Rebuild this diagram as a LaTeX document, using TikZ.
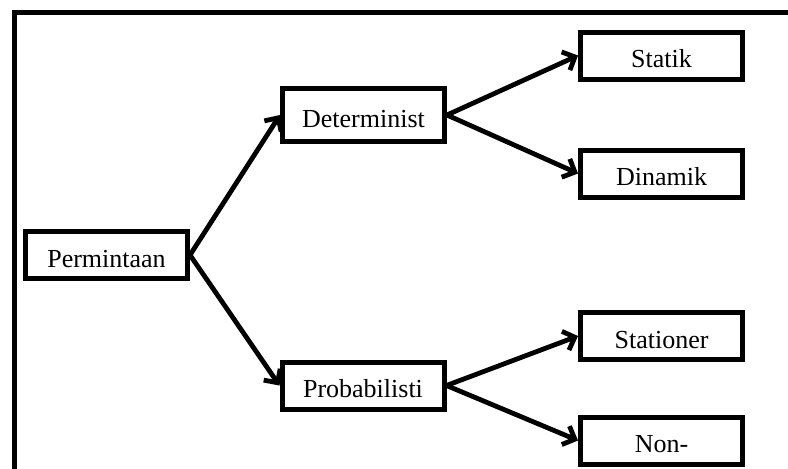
\documentclass[tikz,border=0pt]{standalone}
\usepackage{fontspec}
\setmainfont{Liberation Serif}
\usetikzlibrary{arrows.meta}

\begin{document}
\begin{tikzpicture}[x=0.5pt, y=-0.5pt,
    kotak/.style={draw, line width=2.5pt, minimum width=81pt, minimum height=23.5pt,
        inner sep=0pt, text height=12pt, text depth=0pt,
        font=\fontsize{13}{15}\selectfont},
    panah/.style={line width=2.4pt, -{Straight Barb[length=5pt, width=10pt]}}]

        \useasboundingbox (0, 0) rectangle (788, 468);
        \clip (0, 0) rectangle (788, 468);
        \draw[line width=2.5pt] (14.5, 12.5) rectangle (820, 500);

        \node[kotak] (perm) at (106.5, 255) {Permintaan};
        \node[kotak, minimum height=26.5pt] (det) at (363.5, 115) {Determinist};
        \node[kotak] (prob) at (363, 385.5) {Probabilisti};
        \node[kotak] (stat) at (661.5, 55.5) {Statik};
        \node[kotak] (din) at (661.5, 173.5) {Dinamik};
        \node[kotak] (stas) at (661.5, 336) {Stationer};
        \node[kotak] (non) at (661.5, 440.5) {Non-};

        \draw[panah] (perm.east) -- (det.west);
        \draw[panah] (perm.east) -- (prob.west);
        \draw[panah] (det.east) -- (stat.west);
        \draw[panah] (det.east) -- (din.west);
        \draw[panah] (prob.east) -- (stas.west);
        \draw[panah] (prob.east) -- (non.west);

    \end{tikzpicture}
\end{document}
